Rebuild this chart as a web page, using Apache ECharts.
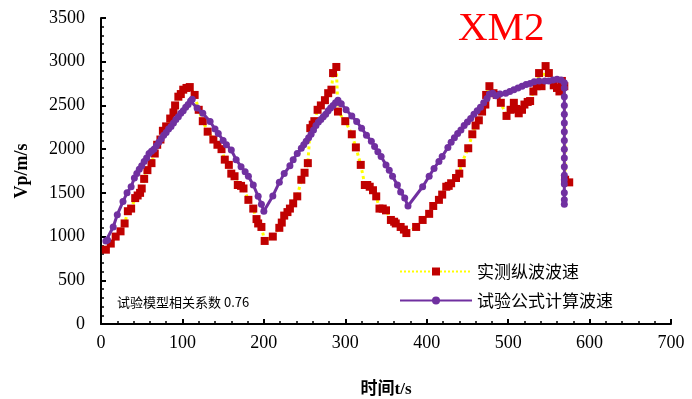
<!DOCTYPE html>
<html><head><meta charset="utf-8">
<script src="https://cdn.jsdelivr.net/npm/echarts@6/dist/echarts.min.js"></script>
<style>html,body{margin:0;padding:0;background:#fff}#c{width:692px;height:399px}</style>
</head><body><div id="c"></div>
<script>
// Measured P-wave velocity (实测纵波波速)
const measuredT = [6,12,18,24,29,33,37,42,45,48,50,53,57,62,66,69,73,76,80,85,89,91,95,98,101,105,109,
 115,120,125,131,138,143,148,152,157,160,164,168,172,175,181,187,191,193,197,201,
 211,219,222,225,229,232,236,241,246,250,254,257,260,262,266,270,275,279,283,285,289,
 291,300,308,313,319,324,327,330,334,338,342,346,350,356,360,362,368,372,375,
 387,395,403,408,415,419,424,427,430,436,440,443,451,456,460,464,468,472,473,477,
 482,486,491,498,503,507,510,513,517,520,524,527,531,535,538,541,546,550,556,560,563,566,569,570,575];
const measuredV = [850,920,1000,1060,1150,1290,1320,1440,1470,1500,1550,1660,1760,1840,1950,2050,2110,2210,2260,2350,2420,2500,2600,2630,2680,2700,2710,
 2620,2450,2320,2200,2110,2050,2000,1880,1820,1720,1690,1590,1580,1550,1420,1320,1200,1150,1110,950,
 1000,1100,1160,1240,1280,1320,1380,1460,1650,1730,1840,2240,2280,2320,2450,2500,2560,2640,2680,2870,2940,
 2430,2320,2170,2020,1820,1590,1590,1570,1530,1460,1320,1320,1300,1190,1170,1150,1110,1080,1040,
 1110,1190,1260,1350,1420,1480,1570,1580,1610,1670,1720,1840,2010,2170,2270,2330,2430,2510,2620,2720,
 2640,2620,2530,2380,2450,2530,2460,2410,2450,2510,2540,2550,2660,2720,2870,2720,2950,2870,2730,2700,2660,2780,2720,1650,1620];
// Formula-calculated velocity (试验公式计算波速)
const calcT = [6,8,15,20,27,32,37,41,44,47,50,53,56,59,62,65,68,71,74,77,80,83,86,89,92,95,98,101,104,107,110,112,
 118,125,134,140,144,150,154,160,166,172,177,181,187,193,197,200,
 211,219,225,232,236,241,246,249,252,255,258,261,264,267,270,273,276,279,282,285,288,291,
 295,301,308,314,320,326,332,336,340,344,350,354,358,364,368,373,377,
 395,403,409,415,419,426,430,434,438,442,446,450,454,458,462,466,470,474,477,481,485,490,497,502,507,512,517,522,527,532,538,545,550,555,560,565,569,
 569,569,569,569,569,569,569,569,569,569,569,569,569,569,569,569];
const calcV = [950,960,1110,1250,1400,1500,1570,1670,1720,1770,1810,1860,1900,1950,1975,2000,2040,2080,2120,2160,2190,2230,2260,2300,2340,2370,2410,2440,2480,2510,2550,2570,
 2470,2410,2315,2230,2180,2100,2050,1990,1880,1800,1740,1690,1590,1460,1370,1290,
 1465,1620,1720,1810,1880,1950,2010,2050,2090,2130,2170,2220,2270,2310,2340,2370,2400,2440,2470,2500,2530,2560,
 2520,2450,2380,2315,2240,2160,2090,2030,1970,1915,1820,1760,1690,1590,1510,1440,1350,
 1570,1690,1780,1860,1915,2020,2080,2130,2180,2220,2270,2310,2350,2400,2440,2480,2530,2580,2630,2640,2610,2630,2640,2660,2680,2700,2720,2740,2750,2770,2780,2780,2780,2790,2800,2790,2760,
 2700,2600,2500,2400,2300,2200,2100,2000,1900,1800,1700,1650,1600,1500,1420,1370];

const xTicks = [0,100,200,300,400,500,600,700];
const yTicks = [0,500,1000,1500,2000,2500,3000,3500];

const zip = (a,b)=>a.map((t,i)=>[t,b[i]]);
const chart = echarts.init(document.getElementById('c'));
const serif = "'Liberation Serif','Times New Roman',serif";
const cjk = "'Noto Sans CJK SC','Noto Sans',sans-serif";
chart.setOption({
  animation:false,
  backgroundColor:'#fff',
  title:{text:'XM2',left:453,top:4,textStyle:{color:'#ff0000',fontFamily:serif,fontSize:41,fontWeight:'normal'}},
  grid:{left:101,right:21,top:18,bottom:75,outerBoundsMode:'none',containLabel:false},
  legend:{
    orient:'vertical',left:394,top:258,itemWidth:72,itemHeight:10,itemGap:12,
    textStyle:{fontFamily:cjk,fontSize:17,color:'#000'},
    data:['实测纵波波速','试验公式计算波速']
  },
  graphic:[{type:'text',left:117,top:296,style:{text:'试验模型相关系数 0.76',fontFamily:cjk,fontSize:13,fill:'#000'}}],
  xAxis:{
    type:'value',min:0,max:700,interval:100,
    name:'时间t/s',nameLocation:'middle',nameGap:57,
    nameTextStyle:{fontFamily:serif+","+cjk,fontWeight:'bold',fontSize:17,color:'#000'},
    axisLine:{show:true,lineStyle:{color:'#000',width:2}},
    axisTick:{show:true,inside:true,length:5,lineStyle:{color:'#000',width:2}},
    minorTick:{show:true,splitNumber:5,length:3,lineStyle:{color:'#000',width:1.5}},
    splitLine:{show:false},
    axisLabel:{fontFamily:serif,fontSize:18,color:'#000',margin:10,formatter:v=>String(v)}
  },
  yAxis:{
    type:'value',min:0,max:3500,interval:500,
    name:'Vp/m/s',nameLocation:'middle',nameGap:70,
    nameTextStyle:{fontFamily:serif,fontWeight:'bold',fontSize:18,color:'#000'},
    axisLine:{show:true,lineStyle:{color:'#000',width:2}},
    axisTick:{show:true,inside:true,length:5,lineStyle:{color:'#000',width:2}},
    minorTick:{show:true,splitNumber:5,length:3,lineStyle:{color:'#000',width:1.5}},
    splitLine:{show:false},
    axisLabel:{fontFamily:serif,fontSize:18,color:'#000',margin:16,formatter:v=>String(v)}
  },
  series:[
    {name:'实测纵波波速',type:'line',data:zip(measuredT,measuredV),
     symbol:'rect',symbolSize:8,showAllSymbol:true,
     itemStyle:{color:'#c00000'},
     lineStyle:{color:'#ffff00',width:3,type:'dotted'},z:2},
    {name:'试验公式计算波速',type:'line',data:zip(calcT,calcV),
     symbol:'circle',symbolSize:7,showAllSymbol:true,
     itemStyle:{color:'#7030a0'},
     lineStyle:{color:'#7030a0',width:3},z:3}
  ]
});
</script></body></html>
